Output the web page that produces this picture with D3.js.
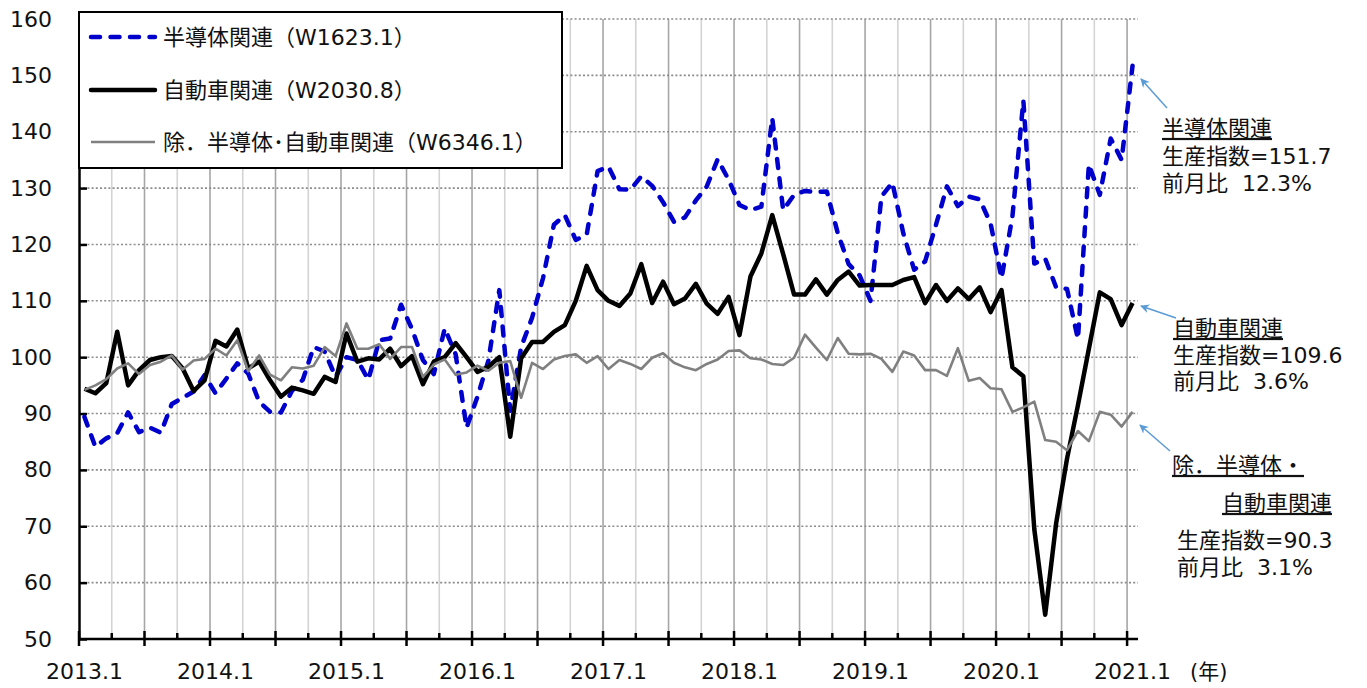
<!DOCTYPE html>
<html>
<head>
<meta charset="utf-8">
<script src="https://cdn.jsdelivr.net/npm/d3@7/dist/d3.min.js"></script>
<style>
  html, body { margin: 0; padding: 0; background: #fff; }
  svg text { font-family: "DejaVu Sans", "Noto Sans CJK JP", sans-serif; fill: #111; white-space: pre; text-spacing-trim: space-all; }
</style>
</head>
<body>
<svg id="chart" width="1367" height="688"></svg>
<script>
// ---- data (monthly, 2013.1 - 2021.1) ----
const startYear = 2013;
const semiconductor = [
  89.4, 84.1, 85.6, 86.5, 90.2, 86.7, 87.5, 86.6, 91.7, 92.8, 93.9, 96.8,
  93.6, 96.2, 98.9, 97.1, 92.1, 90.3, 90.2, 94.0, 96.0, 101.8, 101.0, 96.5,
  100.0, 99.5, 96.0, 103.0, 103.3, 109.3, 105.0, 99.5, 97.0, 105.1, 100.5, 87.5,
  93.0, 99.4, 111.9, 90.5, 101.8, 107.0, 114.0, 123.5, 125.2, 120.8, 121.7, 133.0,
  133.8, 129.8, 129.7, 132.1, 130.4, 127.5, 124.0, 124.8, 127.8, 130.3, 135.1, 131.5,
  127.0, 126.1, 126.7, 142.4, 126.1, 128.8, 129.5, 129.3, 129.4, 122.0, 116.5, 114.5,
  110.0, 128.5, 131.0, 122.0, 115.5, 117.0, 123.5, 130.3, 126.8, 128.5, 128.0, 123.7,
  114.0, 125.0, 145.5, 116.6, 117.5, 112.4, 112.1, 103.2, 134.2, 128.8, 138.8, 135.0,
  151.7
];
const automobile = [
  94.4, 93.6, 95.4, 104.5, 95.0, 97.7, 99.5, 100.0, 100.2, 98.0, 94.0, 95.9,
  102.9, 101.9, 104.9, 98.0, 99.2, 95.9, 93.0, 94.6, 94.1, 93.5, 96.5, 95.6,
  104.2, 99.2, 99.8, 99.6, 101.5, 98.4, 100.2, 95.2, 99.2, 100.0, 102.5, 100.0,
  97.4, 98.3, 100.0, 85.9, 99.8, 102.7, 102.7, 104.5, 105.7, 110.0, 116.2, 111.9,
  110.0, 109.1, 111.3, 116.5, 109.6, 113.4, 109.4, 110.4, 113.0, 109.5, 107.7, 110.7,
  103.9, 114.3, 118.4, 125.2, 118.3, 111.1, 111.1, 113.8, 111.1, 113.7, 115.2, 112.7,
  112.8, 112.8, 112.8, 113.7, 114.2, 109.6, 112.8, 110.0, 112.2, 110.3, 112.4, 108.0,
  111.9, 98.2, 96.6, 69.5, 54.3, 70.5, 82.0, 91.5, 101.5, 111.5, 110.3, 105.7,
  109.6
];
const others = [
  94.2, 95.0, 96.1, 98.0, 98.9, 97.0, 98.6, 99.2, 100.3, 97.8, 99.4, 99.7,
  101.5, 100.3, 103.0, 97.5, 100.3, 96.9, 95.9, 98.2, 98.0, 98.5, 101.8, 100.2,
  106.0, 101.5, 101.5, 102.3, 99.7, 101.8, 101.8, 96.5, 98.7, 99.6, 96.9, 97.3,
  98.5, 97.6, 99.0, 99.3, 92.8, 99.0, 97.9, 99.6, 100.2, 100.5, 99.0, 100.2,
  97.9, 99.5, 98.8, 97.9, 99.9, 100.7, 99.0, 98.2, 97.7, 98.8, 99.6, 101.1,
  101.2, 99.8, 99.6, 98.8, 98.6, 99.9, 104.0, 101.7, 99.5, 103.4, 100.6, 100.5,
  100.6, 99.7, 97.4, 101.0, 100.3, 97.7, 97.7, 96.7, 101.6, 95.8, 96.3, 94.5,
  94.3, 90.3, 91.1, 92.1, 85.3, 85.0, 83.5, 86.9, 85.1, 90.3, 89.8, 87.7,
  90.3
];
const seriesNames = ["半導体関連（W1623.1）", "自動車関連（W2030.8）", "除．半導体･自動車関連（W6346.1）"];
const xTickLabels = ["2013.1", "2014.1", "2015.1", "2016.1", "2017.1", "2018.1", "2019.1", "2020.1", "2021.1"];
const yTicks = [50, 60, 70, 80, 90, 100, 110, 120, 130, 140, 150, 160];
const notes = [
  { title: ["半導体関連"], index: "生産指数=151.7", change: "前月比  12.3%" },
  { title: ["自動車関連"], index: "生産指数=109.6", change: "前月比  3.6%" },
  { title: ["除．半導体・", "自動車関連"], index: "生産指数=90.3", change: "前月比  3.1%" }
];

// ---- layout ----
const L = 79, R = 1138, T = 19, B = 639;
const svg = d3.select("#chart");
const x = d3.scaleLinear().domain([0, 97]).range([L, R]);
const y = d3.scaleLinear().domain([50, 160]).range([B, T]);

// vertical gridlines every 3 months
const quarterTicks = d3.range(3, 97, 3);
svg.append("g").selectAll("line").data(quarterTicks).join("line")
  .attr("x1", d => x(d)).attr("x2", d => x(d))
  .attr("y1", T).attr("y2", B)
  .attr("stroke", d => d % 6 === 0 ? "#a6a6a6" : "#d4d4d4")
  .attr("stroke-width", 1.6);

// horizontal dotted gridlines
svg.append("g").selectAll("line").data(yTicks.filter(v => v > 50)).join("line")
  .attr("x1", L).attr("x2", R)
  .attr("y1", d => y(d)).attr("y2", d => y(d))
  .attr("stroke", "#8c8c8c").attr("stroke-width", 1.6)
  .attr("stroke-dasharray", "2,2.2");

// y axis
const yAxis = d3.axisLeft(y).tickValues(yTicks).tickSizeInner(-8).tickSizeOuter(0).tickPadding(27);
const gy = svg.append("g").attr("transform", `translate(${L},0)`).call(yAxis);
gy.select(".domain").attr("stroke", "#000").attr("stroke-width", 2.5);
gy.selectAll(".tick line").attr("stroke", "#000").attr("stroke-width", 2.5);
gy.selectAll(".tick text").style("font-size", "22px").attr("fill", "#111");

// x axis line + ticks
svg.append("line").attr("x1", L).attr("x2", R).attr("y1", B).attr("y2", B)
  .attr("stroke", "#000").attr("stroke-width", 2.5);
svg.append("g").selectAll("line").data(d3.range(0, 97, 3)).join("line")
  .attr("x1", d => x(d)).attr("x2", d => x(d))
  .attr("y1", d => d % 6 === 0 ? B - 8 : B - 6)
  .attr("y2", d => d % 6 === 0 ? B + 7 : B)
  .attr("stroke", "#000").attr("stroke-width", 2.5);
svg.append("g").selectAll("text").data(xTickLabels).join("text")
  .attr("x", (d, i) => x(i * 12 + 0.5)).attr("y", 679)
  .attr("text-anchor", "middle").style("font-size", "22px").text(d => d);
svg.append("text").attr("x", 1190).attr("y", 679).style("font-size", "21px").text("(年)");

// lines
const line = d3.line().x((d, i) => x(i + 0.5)).y(d => y(d)).curve(d3.curveLinear);
svg.append("path").datum(semiconductor).attr("d", line)
  .attr("fill", "none").attr("stroke", "#0000cc").attr("stroke-width", 4.5)
  .attr("stroke-dasharray", "9,10.5").attr("stroke-linecap", "round").attr("stroke-linejoin", "round");
svg.append("path").datum(automobile).attr("d", line)
  .attr("fill", "none").attr("stroke", "#000").attr("stroke-width", 4.5)
  .attr("stroke-linejoin", "round");
svg.append("path").datum(others).attr("d", line)
  .attr("fill", "none").attr("stroke", "#808080").attr("stroke-width", 2.6)
  .attr("stroke-linejoin", "round");

// legend
const lg = svg.append("g");
lg.append("rect").attr("x", L).attr("y", 12).attr("width", 483).attr("height", 156)
  .attr("fill", "#fff").attr("stroke", "#000").attr("stroke-width", 2);
const legRows = [37, 90, 142];
const legStyles = [
  { stroke: "#0000cc", w: 4.5, dash: "9,10.5", cap: "round" },
  { stroke: "#000", w: 4.5, dash: null, cap: "round" },
  { stroke: "#808080", w: 2.6, dash: null, cap: "butt" }
];
seriesNames.forEach((name, i) => {
  const s = legStyles[i];
  const ln = lg.append("line").attr("x1", 91).attr("x2", 155).attr("y1", legRows[i]).attr("y2", legRows[i])
    .attr("stroke", s.stroke).attr("stroke-width", s.w).attr("stroke-linecap", s.cap);
  if (s.dash) ln.attr("stroke-dasharray", s.dash);
  lg.append("text").attr("x", 163).attr("y", legRows[i]).attr("dy", "0.36em")
    .style("font-size", "22px").text(name);
});

// annotations
const ann = svg.append("g");
function addText(xp, yp, t, underline, anchor) {
  const el = ann.append("text").attr("x", xp).attr("y", yp).attr("dy", "0.36em")
    .attr("xml:space", "preserve")
    .style("font-size", "22px").attr("text-anchor", anchor || "start").text(t);
  if (underline) el.style("text-decoration", "underline");
  return el;
}
addText(1162, 128, notes[0].title[0], true);
addText(1162, 156, notes[0].index);
addText(1162, 183, notes[0].change);
addText(1173, 328, notes[1].title[0], true);
addText(1173, 355, notes[1].index);
addText(1173, 381, notes[1].change);
addText(1172, 465, notes[2].title[0], true);
addText(1332, 503, notes[2].title[1], true, "end");
addText(1177, 540, notes[2].index);
addText(1177, 567, notes[2].change);

// arrows
const defs = svg.append("defs");
defs.append("marker").attr("id", "arr").attr("viewBox", "0 0 10 10")
  .attr("refX", 9).attr("refY", 5).attr("markerWidth", 9).attr("markerHeight", 9)
  .attr("orient", "auto-start-reverse").attr("markerUnits", "userSpaceOnUse")
  .append("path").attr("d", "M0,0 L10,5 L0,10 L3,5 Z").attr("fill", "#5b9bd5");
const arrows = [
  [1167, 108, 1141, 79],
  [1176, 318, 1141, 306],
  [1170, 451, 1140, 425]
];
ann.selectAll("line.arrow").data(arrows).join("line")
  .attr("x1", d => d[0]).attr("y1", d => d[1]).attr("x2", d => d[2]).attr("y2", d => d[3])
  .attr("stroke", "#5b9bd5").attr("stroke-width", 1.5).attr("marker-end", "url(#arr)");
</script>
</body>
</html>
